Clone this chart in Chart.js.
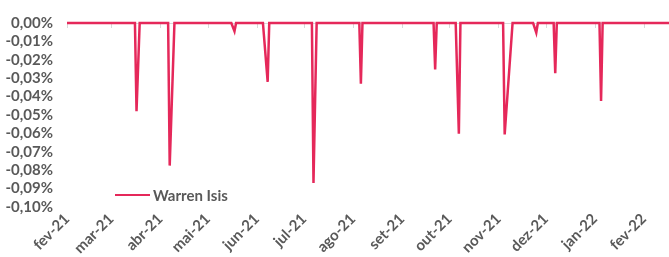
<!DOCTYPE html>
<html>
<head>
<meta charset="utf-8">
<script src="https://cdn.jsdelivr.net/npm/chart.js@4/dist/chart.umd.min.js"></script>
<style>
  html, body { margin: 0; padding: 0; background: #fff; }
  .wrap { position: relative; width: 669px; height: 257px; }
  .legend { position: absolute; left: 115px; top: 186px; display: flex; align-items: center;
    font: bold 15px Lato, sans-serif; color: #595959; }
  .legend .swatch { width: 35px; height: 2.5px; background: #e5285a; margin-right: 3px; }
</style>
</head>
<body>
<div class="wrap">
  <canvas id="chart" width="669" height="257"></canvas>
  <div class="legend"><span class="swatch"></span><span>Warren Isis</span></div>
</div>
<script>
const seriesName = 'Warren Isis';

const dates = [
  '2021-02-01',
  '2021-03-16', '2021-03-17', '2021-03-19',
  '2021-04-06', '2021-04-07', '2021-04-10',
  '2021-05-16', '2021-05-18', '2021-05-19',
  '2021-06-05', '2021-06-08', '2021-06-09',
  '2021-07-06', '2021-07-07', '2021-07-09',
  '2021-08-05', '2021-08-06', '2021-08-07',
  '2021-09-21', '2021-09-22', '2021-09-23',
  '2021-10-05', '2021-10-07', '2021-10-08',
  '2021-11-04', '2021-11-05', '2021-11-10',
  '2021-11-23', '2021-11-25', '2021-11-26',
  '2021-12-06', '2021-12-07', '2021-12-08',
  '2022-01-04', '2022-01-05', '2022-01-06',
  '2022-02-17'
];

// drawdown in %
const values = [
  0,
  0, -0.048, 0,
  0, -0.0775, 0,
  0, -0.0045, 0,
  0, -0.032, 0,
  0, -0.087, 0,
  0, -0.033, 0,
  0, -0.0253, 0,
  0, -0.0602, 0,
  0, -0.0606, 0,
  0, -0.0053, 0,
  0, -0.0273, 0,
  0, -0.0424, 0,
  0
];

const monthStarts = [
  '2021-02-01', '2021-03-01', '2021-04-01', '2021-05-01', '2021-06-01', '2021-07-01', '2021-08-01',
  '2021-09-01', '2021-10-01', '2021-11-01', '2021-12-01', '2022-01-01', '2022-02-01'
];
const monthLabels = [
  'fev-21', 'mar-21', 'abr-21', 'mai-21', 'jun-21', 'jul-21', 'ago-21',
  'set-21', 'out-21', 'nov-21', 'dez-21', 'jan-22', 'fev-22'
];

const yTicks = [0, -0.01, -0.02, -0.03, -0.04, -0.05, -0.06, -0.07, -0.08, -0.09, -0.10];

const origin = Date.UTC(2021, 1, 1);
const dayOf = (s) => (Date.parse(s) - origin) / 86400000;

function pct(v) {
  if (Math.abs(v) < 1e-9) v = 0;
  return v.toFixed(2).replace('.', ',') + '%';
}

const labelFont = { family: 'Lato', size: 15, weight: 'bold' };
const labelColor = '#595959';

// zero axis line + small month tick marks hanging from it
const axisMarks = {
  id: 'axisMarks',
  beforeDatasetsDraw(chart) {
    const { ctx, chartArea, scales: { x, y } } = chart;
    const y0 = y.getPixelForValue(0);
    ctx.save();
    ctx.strokeStyle = '#d9d9d9';
    ctx.lineWidth = 1;
    ctx.beginPath();
    ctx.moveTo(chartArea.left, y0 + 0.5);
    ctx.lineTo(chartArea.right, y0 + 0.5);
    x.ticks.forEach(t => {
      const px = Math.round(x.getPixelForValue(t.value)) + 0.5;
      ctx.moveTo(px, y0);
      ctx.lineTo(px, y0 + 5);
    });
    ctx.stroke();
    ctx.restore();
  }
};

new Chart(document.getElementById('chart'), {
  type: 'line',
  data: {
    datasets: [{
      label: seriesName,
      data: dates.map((d, i) => ({ x: dayOf(d), y: values[i] })),
      borderColor: '#e5285a',
      backgroundColor: '#e5285a',
      borderWidth: 2.5,
      pointRadius: 0,
      tension: 0,
      clip: false
    }]
  },
  options: {
    responsive: false,
    animation: false,
    devicePixelRatio: 1,
    layout: { padding: { top: 20, left: 0, right: 0, bottom: 0 } },
    plugins: { legend: { display: false }, tooltip: { enabled: false } },
    scales: {
      x: {
        type: 'linear',
        min: 0,
        max: 381,
        afterBuildTicks: (scale) => { scale.ticks = monthStarts.map(d => ({ value: dayOf(d) })); },
        afterFit: (scale) => { scale.height = 50; },
        grid: { display: false, drawTicks: false },
        border: { display: false },
        ticks: {
          autoSkip: false,
          minRotation: 45,
          maxRotation: 45,
          padding: 3,
          font: labelFont,
          color: labelColor,
          callback: (v, i) => monthLabels[i]
        }
      },
      y: {
        min: -0.1,
        max: 0,
        afterBuildTicks: (scale) => { scale.ticks = yTicks.map(v => ({ value: v })); },
        afterFit: (scale) => { scale.width = 67; },
        grid: { display: false, drawTicks: false },
        border: { display: false },
        ticks: {
          autoSkip: false,
          padding: 14,
          font: labelFont,
          color: labelColor,
          callback: (v) => pct(v)
        }
      }
    }
  },
  plugins: [axisMarks]
});
</script>
</body>
</html>
